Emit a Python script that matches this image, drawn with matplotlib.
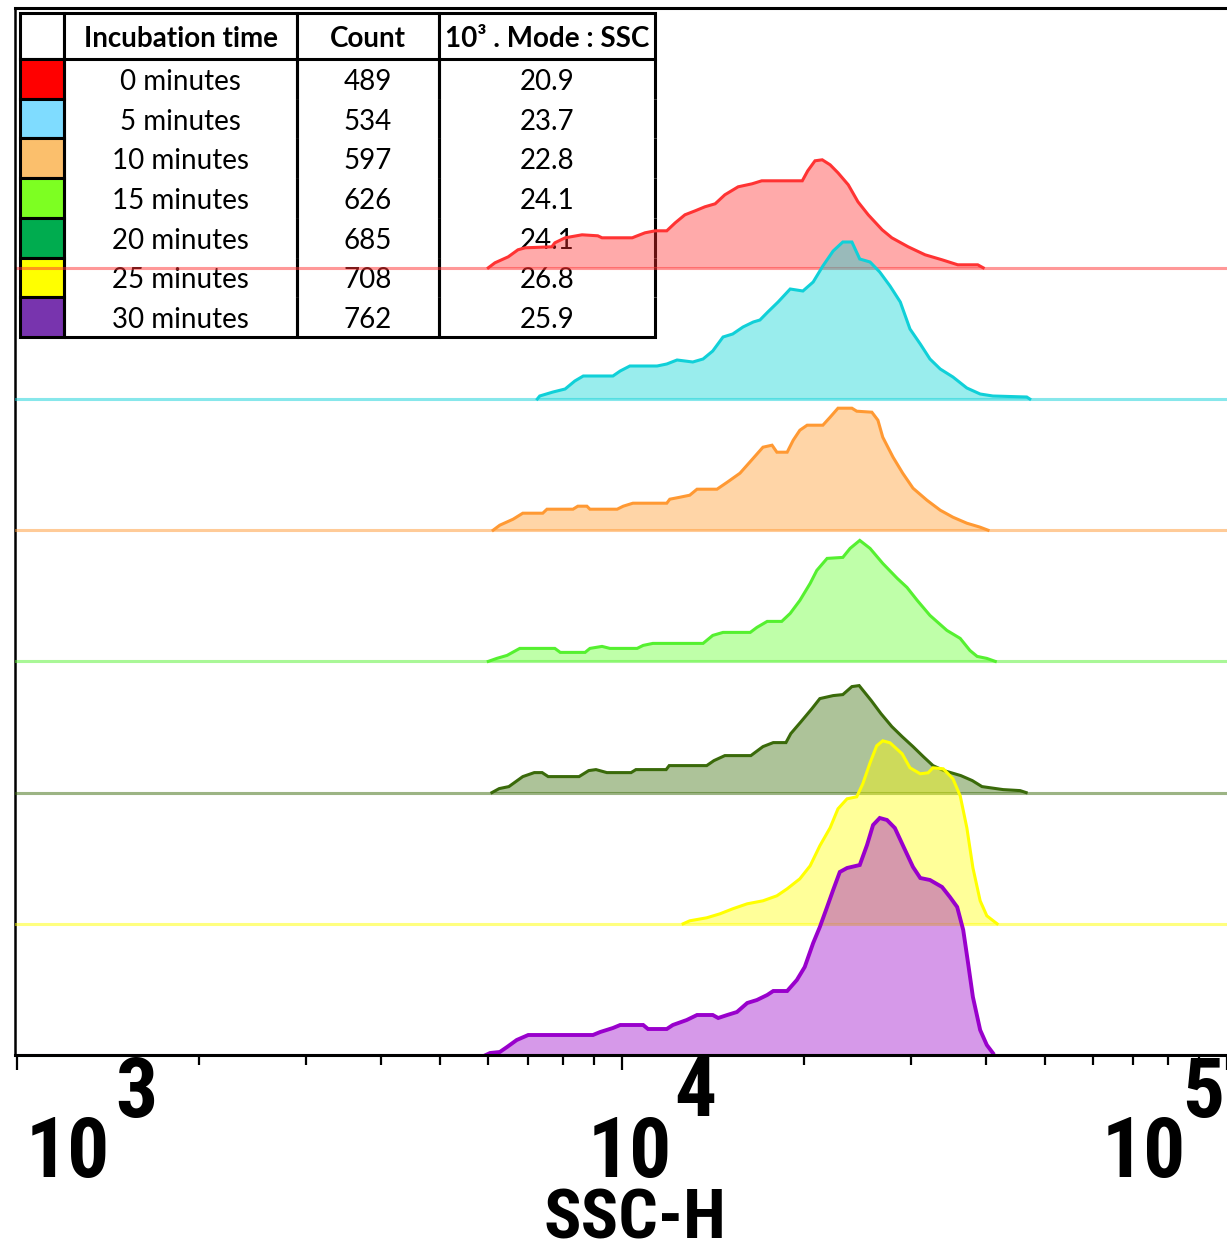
import numpy as np
import matplotlib.pyplot as plt
from matplotlib import font_manager
from matplotlib.transforms import Affine2D

# staggered SSC-H histograms; x values are log10(SSC-H), heights in events
t0_log = [3.779, 3.790, 3.812, 3.828, 3.840, 3.884, 3.889, 3.906, 3.934, 3.960, 3.967, 4.017, 4.021, 4.038,
          4.055, 4.074, 4.088, 4.104, 4.121, 4.137, 4.154, 4.170, 4.192, 4.215, 4.231, 4.298, 4.307, 4.319,
          4.331, 4.344, 4.357, 4.374, 4.390, 4.407, 4.430, 4.446, 4.473, 4.501, 4.529, 4.555, 4.588, 4.597]
t0_cnt = [0, 5, 11, 18, 20, 21, 25, 30, 33, 32, 30, 30, 31, 35, 37, 37, 45, 53, 57, 61, 64, 73, 81, 84,
          87, 87, 97, 107, 108, 103, 95, 83, 66, 53, 38, 30, 21, 13, 8, 3, 3, 0]

t5_log = [3.860, 3.864, 3.886, 3.906, 3.922, 3.936, 3.985, 3.997, 4.013, 4.058, 4.074, 4.091, 4.117, 4.134,
          4.150, 4.167, 4.183, 4.200, 4.217, 4.228, 4.241, 4.258, 4.278, 4.299, 4.316, 4.332, 4.349, 4.365,
          4.380, 4.393, 4.410, 4.426, 4.443, 4.460, 4.476, 4.493, 4.509, 4.526, 4.547, 4.570, 4.592, 4.613,
          4.669, 4.674]
t5_cnt = [0, 3, 7, 10, 18, 23, 23, 28, 33, 33, 35, 39, 37, 40, 48, 62, 65, 72, 77, 79, 87, 97, 110, 108,
          117, 133, 148, 157, 157, 140, 137, 127, 113, 97, 70, 55, 40, 30, 22, 11, 5, 3, 2, 0]

t10_log = [3.787, 3.798, 3.820, 3.836, 3.869, 3.876, 3.919, 3.927, 3.942, 3.947, 3.992, 4.002, 4.018, 4.074,
           4.079, 4.096, 4.112, 4.124, 4.157, 4.174, 4.195, 4.217, 4.233, 4.248, 4.256, 4.273, 4.283, 4.294,
           4.306, 4.332, 4.344, 4.357, 4.380, 4.388, 4.413, 4.423, 4.431, 4.448, 4.464, 4.481, 4.504, 4.526,
           4.547, 4.570, 4.592, 4.605]
t10_cnt = [0, 5, 11, 17, 17, 21, 21, 24, 24, 21, 21, 24, 27, 27, 31, 33, 35, 41, 41, 48, 57, 72, 83, 85,
           78, 78, 90, 100, 105, 105, 113, 122, 122, 119, 118, 110, 93, 73, 57, 42, 30, 20, 13, 7, 3, 0]

t15_log = [3.779, 3.793, 3.810, 3.831, 3.889, 3.898, 3.939, 3.947, 3.967, 3.980, 4.025, 4.035, 4.051, 4.134,
           4.150, 4.167, 4.212, 4.223, 4.240, 4.264, 4.278, 4.294, 4.311, 4.322, 4.339, 4.365, 4.377, 4.393,
           4.410, 4.431, 4.455, 4.471, 4.488, 4.509, 4.537, 4.559, 4.575, 4.587, 4.603, 4.617]
t15_cnt = [0, 3, 6, 13, 13, 9, 9, 13, 15, 13, 13, 16, 18, 18, 26, 29, 29, 34, 40, 40, 48, 61, 78, 91,
           103, 104, 113, 121, 113, 98, 83, 74, 61, 46, 31, 23, 11, 5, 3, 0]

t20_log = [3.785, 3.797, 3.813, 3.836, 3.855, 3.868, 3.878, 3.929, 3.945, 3.957, 3.975, 4.015, 4.023, 4.073,
           4.078, 4.140, 4.152, 4.170, 4.213, 4.233, 4.250, 4.271, 4.279, 4.296, 4.314, 4.327, 4.349, 4.365,
           4.380, 4.392, 4.400, 4.412, 4.428, 4.446, 4.463, 4.481, 4.498, 4.514, 4.532, 4.560, 4.579, 4.595,
           4.630, 4.658, 4.668]
t20_cnt = [0, 4, 6, 16, 20, 20, 16, 16, 22, 23, 20, 20, 23, 23, 27, 27, 32, 37, 37, 46, 50, 50, 59, 71,
           84, 94, 97, 98, 106, 107, 101, 92, 79, 66, 56, 46, 36, 27, 22, 17, 12, 6, 3, 2, 0]

t25_log = [4.101, 4.112, 4.140, 4.162, 4.183, 4.207, 4.233, 4.256, 4.273, 4.294, 4.311, 4.327, 4.344, 4.357,
           4.372, 4.388, 4.398, 4.410, 4.421, 4.431, 4.443, 4.463, 4.476, 4.493, 4.506, 4.514, 4.531, 4.547,
           4.559, 4.570, 4.580, 4.592, 4.603, 4.620]
t25_cnt = [0, 3, 6, 10, 15, 20, 23, 28, 35, 45, 58, 78, 96, 115, 125, 127, 140, 161, 178, 183, 181, 170,
           156, 150, 151, 156, 155, 145, 128, 96, 56, 23, 8, 0]

t30_log = [3.775, 3.782, 3.798, 3.810, 3.826, 3.845, 3.952, 3.964, 3.985, 3.997, 4.035, 4.043, 4.074, 4.084,
           4.107, 4.124, 4.150, 4.159, 4.174, 4.190, 4.207, 4.223, 4.240, 4.250, 4.273, 4.289, 4.302, 4.316,
           4.327, 4.339, 4.349, 4.360, 4.372, 4.393, 4.405, 4.415, 4.426, 4.438, 4.451, 4.464, 4.481, 4.493,
           4.509, 4.529, 4.542, 4.554, 4.564, 4.572, 4.580, 4.592, 4.603, 4.613]
t30_cnt = [0, 2, 3, 8, 15, 20, 20, 23, 27, 30, 30, 26, 26, 30, 35, 40, 40, 37, 40, 43, 52, 55, 60, 64,
           64, 75, 88, 112, 128, 148, 165, 183, 187, 190, 210, 230, 237, 235, 227, 210, 188, 177, 175, 168,
           158, 148, 125, 92, 58, 25, 10, 2]

# table contents
times = ['0 minutes', '5 minutes', '10 minutes', '15 minutes', '20 minutes', '25 minutes', '30 minutes']
counts = ['489', '534', '597', '626', '685', '708', '762']
modes = ['20.9', '23.7', '22.8', '24.1', '24.1', '26.8', '25.9']
header = ['', 'Incubation time', 'Count', '10\u00b3 . Mode : SSC']
swatches = ['#ff0000', '#7fdcff', '#fbbf6c', '#7dff22', '#00ac4f', '#ffff00', '#7834ae']

line_colors = ['#ff3333', '#10d0d8', '#ff9933', '#55f030', '#3a6a0a', '#ffff00', '#9900cc']
fill_colors = ['#ff2b2b', '#00d4d4', '#ff9625', '#5fff2a', '#336b02', '#ffff00', '#9900ca']
series = [(t0_log, t0_cnt), (t5_log, t5_cnt), (t10_log, t10_cnt), (t15_log, t15_cnt),
          (t20_log, t20_cnt), (t25_log, t25_cnt), (t30_log, t30_cnt)]

# pick a narrow bold font for the axis labels if one is around
names = {f.name for f in font_manager.fontManager.ttflist}
narrow = 'DejaVu Sans'
for cand in ['Liberation Sans Narrow', 'Roboto Condensed', 'DejaVu Sans Condensed']:
    if cand in names:
        narrow = cand
        break
table_font = 'Lato'

fig = plt.figure(figsize=(12.27, 12.52), dpi=100)
ax = fig.add_axes([15 / 1227, 197 / 1252, 1212 / 1227, 1047 / 1252])
ax.set_xscale('log')
ax.set_xlim(10 ** (3 - 2 / 605), 1e5)
ax.set_ylim(0, 1047)

step = 131.2
offsets = [(6 - i) * step for i in range(7)]

for i, (xs, hs) in enumerate(series):
    off = offsets[i]
    ssc = 10 ** np.array(xs)
    y = off + np.array(hs)
    ax.fill_between(ssc, off, y, color=fill_colors[i], alpha=0.4, lw=0, zorder=2 + i)
    ax.axhline(off, color=line_colors[i], alpha=0.5, lw=2.2, zorder=2 + i)
    lw = 2.8 if i == 6 else 2.2
    ax.plot(ssc, y, color=line_colors[i], lw=lw, zorder=2 + i, solid_joinstyle='miter')

# axes frame
ax.set_yticks([])
ax.spines['right'].set_visible(False)
ax.spines['left'].set_linewidth(1.8)
ax.spines['top'].set_linewidth(2.2)
ax.spines['bottom'].set_linewidth(2.2)
ax.spines['bottom'].set_zorder(20)
ax.tick_params(axis='x', which='major', length=11, width=1.6, direction='out', labelbottom=False)
ax.tick_params(axis='x', which='minor', length=7, width=1.6, direction='out', labelbottom=False)

# decade labels: big "10" with raised exponent
lab_kw = dict(xycoords=('data', 'axes fraction'), textcoords='offset pixels', ha='center', va='center',
              fontsize=60, fontweight='bold', family=narrow, annotation_clip=False)
ten_dx = [51, 8, -83]
exp_dx = [119, 73, -24]
for k, dec in enumerate([3, 4, 5]):
    ax.annotate('10', xy=(10.0 ** dec, 0), xytext=(ten_dx[k], -100), **lab_kw)
    ax.annotate(str(dec), xy=(10.0 ** dec, 0), xytext=(exp_dx[k], -39), **lab_kw)

fig.text(635 / 1227, 32 / 1252, 'SSC-H', ha='center', va='center', fontsize=50,
         fontweight='bold', family=narrow)

# legend table in the upper left corner
cell_text = [header] + [['', t, c, m] for t, c, m in zip(times, counts, modes)]
cell_colors = [['white'] * 4] + [[s, 'white', 'white', 'white'] for s in swatches]
x0 = (20 - 15) / 1212
w = 635 / 1212
y1 = (1055 - 13) / 1047
h = (337 - 13) / 1047
tab = ax.table(cellText=cell_text, cellColours=cell_colors, colWidths=[44, 233, 142, 216],
               cellLoc='center', bbox=[x0, y1 - h, w, h])
tab.set_zorder(1)
tab.auto_set_font_size(False)
nrows = len(cell_text)
for (r, c), cell in tab.get_celld().items():
    cell.set_height(46 if r == 0 else 39.7)
    cell.set_linewidth(2.2)
    txt = cell.get_text()
    txt.set_fontsize(20)
    txt.set_fontfamily(table_font)
    # nudge text a few pixels down, like the original
    txt.set_transform(Affine2D().translate(0, -3))
    if r == 0:
        txt.set_fontweight('bold')
        cell.visible_edges = 'closed'
    elif c == 0:
        cell.visible_edges = 'closed'
    elif r == nrows - 1:
        cell.visible_edges = 'BLR'
    else:
        cell.visible_edges = 'LR'

fig.savefig('out.png', dpi=100)
